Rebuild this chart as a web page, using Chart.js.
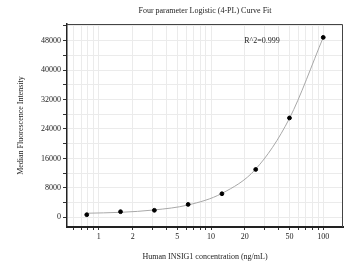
<!DOCTYPE html>
<html lang="en">
<head>
<meta charset="UTF-8">
<title>4-PL Curve Fit</title>
<script src="https://cdn.jsdelivr.net/npm/chart.js"></script>
<style>
  html, body { margin: 0; padding: 0; background: #fff; }
  #chart { display: block; }
</style>
</head>
<body>
<canvas id="chart" width="349" height="268"></canvas>
<script>
// standards (ng/mL) and measured MFI
const concentrations = [0.78, 1.56, 3.125, 6.25, 12.5, 25, 50, 100];
const mfi = [700, 1520, 1900, 3500, 6400, 13000, 27000, 48900];

// fitted 4-PL curve
const fitConc = [0.78, 1.56, 3.125, 6.25, 12.5, 25, 50, 100];
const fitMfi = [1100, 1350, 2000, 3350, 6500, 13100, 26900, 48900];

const xTicks = [0.6, 0.7, 0.8, 0.9, 1, 2, 3, 4, 5, 6, 7, 8, 9,
  10, 20, 30, 40, 50, 60, 70, 80, 90, 100];
const xLabels = [1, 2, 5, 10, 20, 50, 100];
const yTicks = [0, 4000, 8000, 12000, 16000, 20000, 24000, 28000,
  32000, 36000, 40000, 44000, 48000, 52000];

const titleText = 'Four parameter Logistic (4-PL) Curve Fit';
const r2Text = 'R^2=0.999';

const serif = '"Liberation Serif", "Times New Roman", serif';
const font = { family: serif, size: 8 };

const extras = {
  id: 'extras',
  afterDraw(chart) {
    const { ctx, chartArea: a } = chart;
    ctx.save();
    ctx.strokeStyle = '#444';
    ctx.lineWidth = 1;
    ctx.beginPath();
    ctx.moveTo(a.left, a.top + 0.5);
    ctx.lineTo(a.right - 0.5, a.top + 0.5);
    ctx.lineTo(a.right - 0.5, a.bottom);
    ctx.stroke();
    ctx.fillStyle = '#222';
    ctx.font = '8px ' + serif;
    ctx.textAlign = 'center';
    ctx.textBaseline = 'middle';
    ctx.fillText(titleText, (a.left + a.right) / 2, 11);
    ctx.fillText(r2Text, 262, 41);
    ctx.restore();
  }
};

new Chart(document.getElementById('chart'), {
  type: 'line',
  data: {
    datasets: [{
      label: 'fit',
      data: fitConc.map((x, i) => ({ x: x, y: fitMfi[i] })),
      borderColor: '#a8a8a8',
      borderWidth: 1,
      pointRadius: 0,
      cubicInterpolationMode: 'monotone',
      order: 2
    }, {
      label: 'standards',
      type: 'scatter',
      data: concentrations.map((x, i) => ({ x: x, y: mfi[i] })),
      backgroundColor: '#000',
      borderColor: '#000',
      pointRadius: 1.9,
      order: 1
    }]
  },
  options: {
    responsive: false,
    animation: false,
    devicePixelRatio: 1,
    layout: { padding: { top: 24, right: 6, left: 0, bottom: 0 } },
    plugins: { legend: { display: false }, tooltip: { enabled: false } },
    scales: {
      x: {
        type: 'logarithmic',
        min: 0.52,
        max: 150,
        afterBuildTicks: s => { s.ticks = xTicks.map(v => ({ value: v })); },
        afterFit: s => { s.height = 41; },
        ticks: {
          autoSkip: false,
          maxRotation: 0,
          padding: 2,
          font: font,
          color: '#222',
          callback: v => xLabels.includes(v) ? String(v) : ''
        },
        grid: { color: '#ebebeb', tickColor: '#333', tickLength: 3 },
        border: { color: '#222', width: 2 },
        title: {
          display: true,
          text: 'Human INSIG1 concentration (ng/mL)',
          font: font,
          color: '#222',
          padding: { top: 0, bottom: 6 }
        }
      },
      y: {
        min: -2640,
        max: 52540,
        afterBuildTicks: s => { s.ticks = yTicks.map(v => ({ value: v })); },
        afterFit: s => { s.width = 67; },
        ticks: {
          padding: 2,
          font: font,
          color: '#222',
          callback: v => v % 8000 === 0 ? String(v) : ''
        },
        grid: { color: '#ebebeb', tickColor: '#333', tickLength: 4 },
        border: { color: '#222', width: 1.5 },
        title: {
          display: true,
          text: 'Median Fluorescence Intensity',
          font: font,
          color: '#222',
          padding: { top: 16, bottom: 0 }
        }
      }
    }
  },
  plugins: [extras]
});
</script>
</body>
</html>
